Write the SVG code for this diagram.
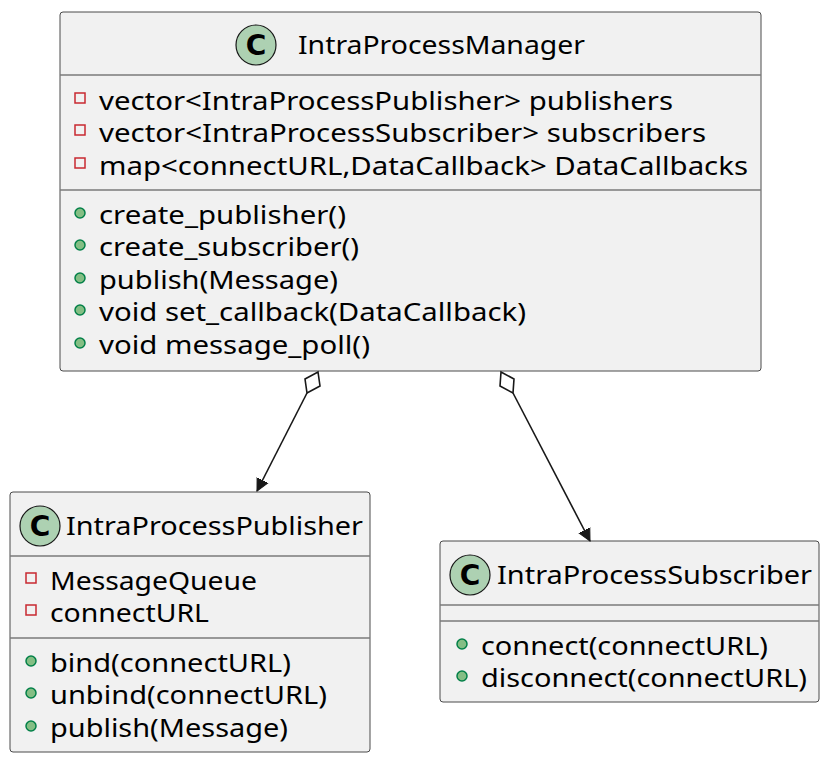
<svg xmlns="http://www.w3.org/2000/svg" width="832" height="762" viewBox="0 0 832 762">
<style>
.box{fill:#F1F1F1;stroke:#4a4a4a;stroke-width:1}
.sep{stroke:#7a7a7a;stroke-width:1.5}
.t{font-family:"Noto Sans","Liberation Sans",sans-serif;font-size:26px;fill:#000}
.ci{fill:#ADD1B2;stroke:#181818;stroke-width:1.2}
.cl{font-family:"DejaVu Sans","Liberation Sans",sans-serif;font-weight:bold;font-size:28px;fill:#000}
.priv{fill:none;stroke:#C82930;stroke-width:1.5}
.pub{fill:#84BE84;stroke:#038048;stroke-width:1.5}
.edge{stroke:#181818;stroke-width:1.6;fill:none}
</style>
<defs>
<marker id="arr" markerWidth="24" markerHeight="24" refX="0" refY="0" viewBox="-12 -12 24 24" orient="auto" markerUnits="userSpaceOnUse">
<path d="M0,0 L-18,-9 L-11,0 L-18,9 Z" fill="#181818" stroke="#181818" stroke-width="1"/>
</marker>
</defs>
<g id="IntraProcessManager">
<rect class="box" x="60" y="12" width="701" height="359" rx="3"/>
<circle class="ci" cx="256" cy="45" r="20"/>
<text class="cl" x="256" y="55" text-anchor="middle">C</text>
<text class="t" x="298" y="54" textLength="287" lengthAdjust="spacingAndGlyphs">IntraProcessManager</text>
<line class="sep" x1="60" y1="75" x2="761" y2="75"/>
<rect class="priv" x="75" y="93" width="10" height="10"/>
<text class="t" x="99" y="110" textLength="574" lengthAdjust="spacingAndGlyphs">vector&lt;IntraProcessPublisher&gt; publishers</text>
<rect class="priv" x="75" y="125" width="10" height="10"/>
<text class="t" x="99" y="142" textLength="607" lengthAdjust="spacingAndGlyphs">vector&lt;IntraProcessSubscriber&gt; subscribers</text>
<rect class="priv" x="75" y="158" width="10" height="10"/>
<text class="t" x="99" y="175" textLength="649" lengthAdjust="spacingAndGlyphs">map&lt;connectURL,DataCallback&gt; DataCallbacks</text>
<line class="sep" x1="60" y1="190" x2="761" y2="190"/>
<circle class="pub" cx="80" cy="213" r="5"/>
<text class="t" x="99" y="224" textLength="247" lengthAdjust="spacingAndGlyphs">create_publisher()</text>
<circle class="pub" cx="80" cy="245" r="5"/>
<text class="t" x="99" y="256" textLength="260" lengthAdjust="spacingAndGlyphs">create_subscriber()</text>
<circle class="pub" cx="80" cy="278" r="5"/>
<text class="t" x="99" y="289" textLength="239" lengthAdjust="spacingAndGlyphs">publish(Message)</text>
<circle class="pub" cx="80" cy="310" r="5"/>
<text class="t" x="99" y="321" textLength="427" lengthAdjust="spacingAndGlyphs">void set_callback(DataCallback)</text>
<circle class="pub" cx="80" cy="343" r="5"/>
<text class="t" x="99" y="354" textLength="271" lengthAdjust="spacingAndGlyphs">void message_poll()</text>
</g>
<g id="IntraProcessPublisher">
<rect class="box" x="10" y="492" width="360" height="260" rx="3"/>
<circle class="ci" cx="40" cy="526" r="20"/>
<text class="cl" x="40" y="536" text-anchor="middle">C</text>
<text class="t" x="66" y="535" textLength="297" lengthAdjust="spacingAndGlyphs">IntraProcessPublisher</text>
<line class="sep" x1="10" y1="556" x2="370" y2="556"/>
<rect class="priv" x="26" y="573" width="10" height="10"/>
<text class="t" x="50" y="590" textLength="207" lengthAdjust="spacingAndGlyphs">MessageQueue</text>
<rect class="priv" x="26" y="605" width="10" height="10"/>
<text class="t" x="50" y="622" textLength="159" lengthAdjust="spacingAndGlyphs">connectURL</text>
<line class="sep" x1="10" y1="638" x2="370" y2="638"/>
<circle class="pub" cx="31" cy="661" r="5"/>
<text class="t" x="50" y="672" textLength="241" lengthAdjust="spacingAndGlyphs">bind(connectURL)</text>
<circle class="pub" cx="31" cy="693" r="5"/>
<text class="t" x="50" y="704" textLength="277" lengthAdjust="spacingAndGlyphs">unbind(connectURL)</text>
<circle class="pub" cx="31" cy="726" r="5"/>
<text class="t" x="50" y="737" textLength="238" lengthAdjust="spacingAndGlyphs">publish(Message)</text>
</g>
<g id="IntraProcessSubscriber">
<rect class="box" x="440" y="541" width="379" height="161" rx="3"/>
<circle class="ci" cx="470" cy="575" r="20"/>
<text class="cl" x="470" y="585" text-anchor="middle">C</text>
<text class="t" x="497" y="584" textLength="315" lengthAdjust="spacingAndGlyphs">IntraProcessSubscriber</text>
<line class="sep" x1="440" y1="605" x2="819" y2="605"/>
<line class="sep" x1="440" y1="621" x2="819" y2="621"/>
<circle class="pub" cx="462" cy="644" r="5"/>
<text class="t" x="481" y="655" textLength="287" lengthAdjust="spacingAndGlyphs">connect(connectURL)</text>
<circle class="pub" cx="462" cy="676" r="5"/>
<text class="t" x="481" y="687" textLength="326" lengthAdjust="spacingAndGlyphs">disconnect(connectURL)</text>
</g>
<g id="connectors">
<path class="edge" d="M318,372 L320,386 L307,393 L305,379 Z"/>
<path class="edge" d="M307,393 L257,491" marker-end="url(#arr)"/>
<path class="edge" d="M501,372 L514,379 L513,393 L500,386 Z"/>
<path class="edge" d="M513,393 L590,541" marker-end="url(#arr)"/>
</g>
</svg>
